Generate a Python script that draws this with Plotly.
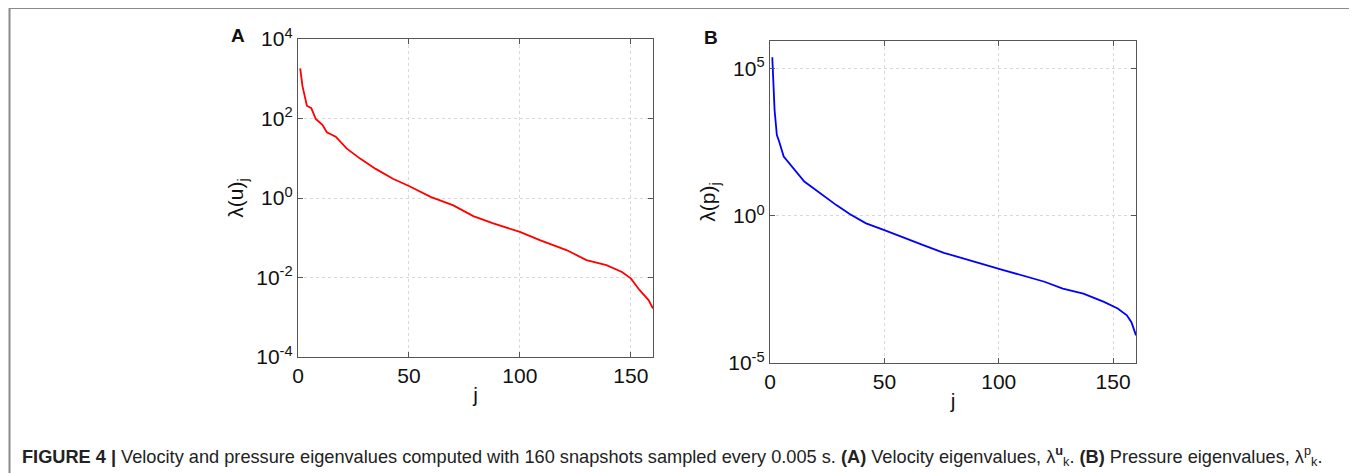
import plotly.graph_objects as go

# Panel A: velocity eigenvalues
j_u = [1, 2, 4, 6, 8, 11, 13, 17, 22, 28, 35, 43, 50, 60, 64, 70, 79, 88, 100,
       109, 121, 130, 139, 146, 150, 154, 158, 160]
lam_u = [1820, 660, 209, 182, 98, 69, 45, 35, 17.4, 9.8, 5.4, 3.0, 2.0, 1.05, 0.87,
         0.65, 0.35, 0.23, 0.14, 0.087, 0.049, 0.0275, 0.0204, 0.0138, 0.0095,
         0.0048, 0.0027, 0.00166]

# Panel B: pressure eigenvalues
j_p = [1, 2, 3, 4, 6, 9, 12, 15, 19, 23, 29, 35, 42, 50, 58, 67, 76, 85, 93, 102,
       111, 120, 128, 137, 146, 152, 156, 158, 160]
lam_p = [2.5e5, 4000, 560, 340, 105, 55, 28, 14.8, 8.7, 5.1, 2.34, 1.15, 0.56, 0.33,
         0.195, 0.102, 0.056, 0.036, 0.023, 0.0145, 0.0089, 0.0058, 0.0034, 0.0023,
         0.0012, 0.00071, 0.00042, 0.000245, 0.000087]

x_ticks = [0, 50, 100, 150]
yA_vals = [1e-4, 1e-2, 1, 1e2, 1e4]
yA_text = ["10<sup>-4</sup>", "10<sup>-2</sup>", "10<sup>0</sup>", "10<sup>2</sup>", "10<sup>4</sup>"]
yB_vals = [1e-5, 1, 1e5]
yB_text = ["10<sup>-5</sup>", "10<sup>0</sup>", "10<sup>5</sup>"]

OFF = 8  # default page body margin
W, H = 1357 - OFF, 473 - OFF
FONT = "Liberation Sans, Arial, Helvetica, sans-serif"


def fx(p):
    return (p - OFF) / W


def fy(p):
    return 1 - (p - OFF) / H


fig = go.Figure()
fig.add_trace(go.Scatter(x=j_u, y=lam_u, mode="lines", line=dict(color="#ff0000", width=1.8),
                         xaxis="x", yaxis="y", showlegend=False))
fig.add_trace(go.Scatter(x=j_p, y=lam_p, mode="lines", line=dict(color="#0000ff", width=1.8),
                         xaxis="x2", yaxis="y2", showlegend=False))

axis_common = dict(
    showline=True, linecolor="#555555", linewidth=1.3, mirror="ticks",
    ticks="inside", ticklen=5, tickcolor="#555555",
    showgrid=True, gridcolor="#d8d8d8", griddash="dot", gridwidth=1,
    zeroline=False, automargin=False,
    tickfont=dict(family=FONT, size=21, color="#111111"),
)

fig.update_layout(
    width=W, height=H,
    margin=dict(l=0, r=0, t=0, b=0),
    paper_bgcolor="white", plot_bgcolor="white",
    font=dict(family=FONT, color="#111111"),
    xaxis=dict(domain=[fx(298), fx(653)], range=[0, 160], tickvals=x_ticks, anchor="y",
               title=dict(text="j", font=dict(size=21), standoff=0), **axis_common),
    yaxis=dict(domain=[fy(357), fy(39)], type="log", range=[-4, 4], tickvals=yA_vals,
               ticktext=yA_text, anchor="x",
               title=dict(text="λ(u)<sub>j</sub>", font=dict(size=21), standoff=6), **axis_common),
    xaxis2=dict(domain=[fx(770), fx(1136)], range=[0, 160], tickvals=x_ticks, anchor="y2",
                title=dict(text="j", font=dict(size=21), standoff=0), **axis_common),
    yaxis2=dict(domain=[fy(363), fy(41)], type="log", range=[-5, 5.95], tickvals=yB_vals,
                ticktext=yB_text, anchor="x2",
                title=dict(text="λ(p)<sub>j</sub>", font=dict(size=21), standoff=6), **axis_common),
)

annotations = [
    dict(text="<b>A</b>", x=fx(238), y=fy(36), xref="paper", yref="paper",
         xanchor="center", yanchor="middle",
         showarrow=False, font=dict(size=19, family=FONT, color="#111111")),
    dict(text="<b>B</b>", x=fx(711), y=fy(37), xref="paper", yref="paper",
         xanchor="center", yanchor="middle",
         showarrow=False, font=dict(size=19, family=FONT, color="#111111")),
    dict(text="<b>FIGURE 4 |</b> Velocity and pressure eigenvalues computed with 160 snapshots sampled every 0.005 s. "
              "<b>(A)</b> Velocity eigenvalues, λ<sup><b>u</b></sup><sub>k</sub>. "
              "<b>(B)</b> Pressure eigenvalues, λ<sup>p</sup><sub>k</sub>.",
         x=fx(20), y=fy(456), xref="paper", yref="paper", xanchor="left", yanchor="middle",
         showarrow=False, font=dict(size=18.2, family=FONT, color="#222222")),
]
fig.update_layout(annotations=annotations)

fig.add_shape(type="rect", xref="paper", yref="paper",
              x0=fx(9.5), x1=fx(1353), y0=-0.05, y1=fy(8),
              line=dict(color="#8a8a8a", width=2), fillcolor="rgba(0,0,0,0)", layer="below")

fig.write_html("out.html")
